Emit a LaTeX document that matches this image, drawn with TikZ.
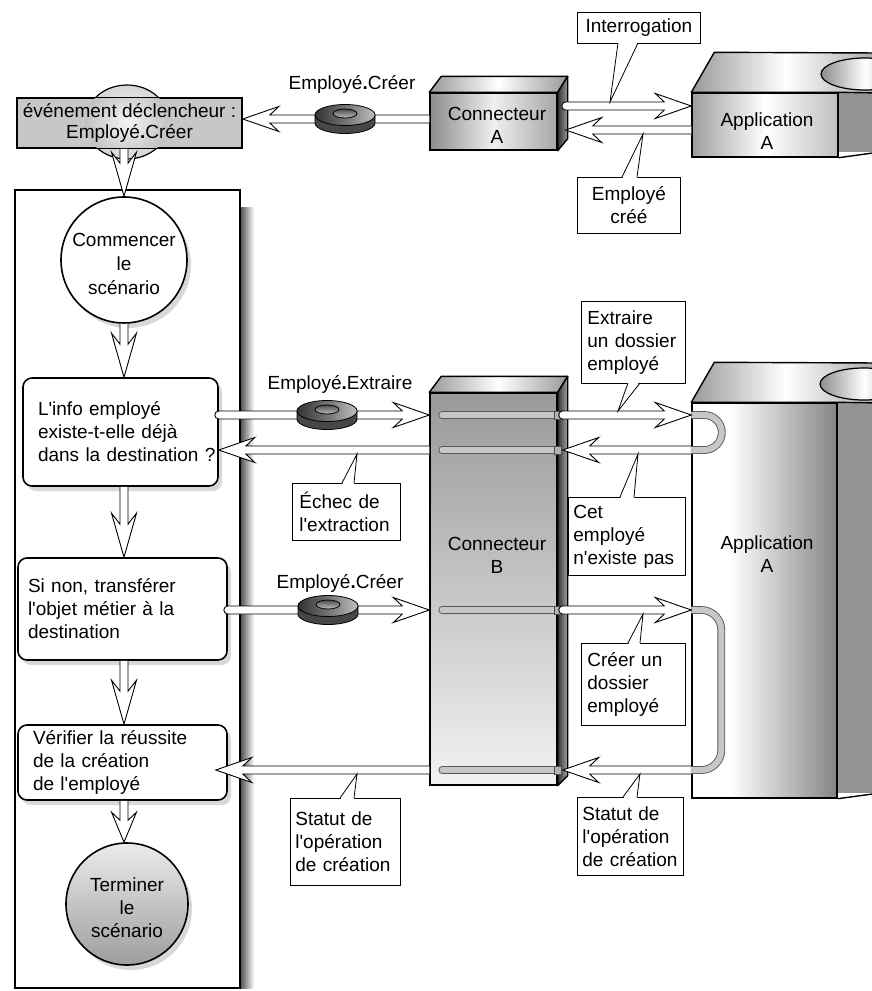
\documentclass[tikz,border=0pt]{standalone}
\usepackage{fontspec}
\setmainfont{Liberation Sans}[Ligatures=TeXOff]
\usetikzlibrary{calc,shadows}
\pgfdeclarehorizontalshading{appfront}{100bp}{color(0bp)=(white); color(25bp)=(white); color(38bp)=(white); color(75bp)=(black!48); color(100bp)=(black!48)}
\tikzset{
 txt/.style={font=\fontsize{19}{23}\selectfont, inner sep=0pt},
 callout/.style={draw, fill=white, line width=0.8pt, anchor=north west, align=left, inner ysep=0pt, font=\fontsize{19}{23}\selectfont},
 proc/.style={draw, line width=1.6pt, rounded corners=9pt, fill=white, align=left, inner ysep=0pt, font=\fontsize{19}{23}\selectfont, drop shadow={shadow xshift=4pt, shadow yshift=-5pt, opacity=0.3}},
 edgethree/.style={line width=1.4pt, line join=round},
 hollowline/.style={line width=0.9pt, line join=miter, miter limit=20},
 tube/.style={draw=black!65, line width=0.9pt, double=black!22, double distance=6pt},
}
\newcommand\hollowarrow[4]{%
 \fill[white] ($(#3)!4pt!90:(#4)$) -- ($(#4)!#2!(#3)!4pt!-90:(#3)$) -- ($(#4)!#1!(#3)!12.5pt!-90:(#3)$) -- (#4) -- ($(#4)!#1!(#3)!12.5pt!90:(#3)$) -- ($(#4)!#2!(#3)!4pt!90:(#3)$) -- ($(#3)!4pt!-90:(#4)$) -- cycle;
 \draw[hollowline] ($(#3)!4pt!90:(#4)$) -- ($(#4)!#2!(#3)!4pt!-90:(#3)$) -- ($(#4)!#1!(#3)!12.5pt!-90:(#3)$) -- (#4) -- ($(#4)!#1!(#3)!12.5pt!90:(#3)$) -- ($(#4)!#2!(#3)!4pt!90:(#3)$) -- ($(#3)!4pt!-90:(#4)$);}
\newcommand\harr[2]{\hollowarrow{36pt}{27pt}{#1}{#2}}
\newcommand\harrR[2]{\filldraw[fill=white, hollowline] (#1) circle[radius=4pt]; \hollowarrow{36pt}{27pt}{#1}{#2}}
\newcommand\varr[2]{\hollowarrow{44pt}{33pt}{#1}{#2}}
\newcommand\ptr[5]{%
 \fill[white] (#1,#4) -- (#5) -- (#2,#4) -- cycle;
 \draw[line width=0.8pt, line join=miter] (#1,#3) -- (#5) -- (#2,#3);}
\newcommand\puck[1]{\begin{scope}[shift={(#1)}]
 \filldraw[fill=black!72, line width=0.8pt] (-30,4) -- (-30,-4) arc[start angle=180, end angle=360, x radius=30, y radius=10.5] -- (30,4) -- cycle;
 \shade[draw, line width=0.8pt, left color=black!80, right color=black!25, middle color=black!55] (0,4) ellipse (30 and 10.5);
 \shade[draw, line width=0.8pt, top color=black!70, bottom color=black!25] (0,5.5) ellipse (12 and 4.5);
\end{scope}}
\begin{document}
\begin{tikzpicture}[x=1pt,y=1pt]
\useasboundingbox (0,0) rectangle (872,-991);
\clip (0,0) rectangle (872,-991);
\fill[white] (0,0) rectangle (872,-991);
% row levels
\coordinate (t106) at (0,-106);
\coordinate (t119) at (0,-119);
\coordinate (t130) at (0,-130);
\coordinate (r415) at (0,-415);
\coordinate (r450) at (0,-450);
\coordinate (r610) at (0,-610);
\coordinate (r770) at (0,-770);
\coordinate (fx) at (124,0);
% frame
\shade[left color=black!65, right color=white] (241,-207) rectangle (254,-988);
\node[draw, line width=1.6pt, minimum width=225pt, minimum height=798pt, inner sep=0pt] (frame) at (127.5,-589) {};
% trigger
\shade[draw, line width=1.2pt, inner color=black!4, outer color=black!16] (127,-122) ellipse (42 and 37);
\node[draw, line width=1.6pt, fill=black!22, minimum width=225pt, minimum height=50pt, inner sep=0pt] (trig) at (129.5,-123) {};
\begin{scope}
\clip ($(trig.south west)+(1,1)$) rectangle ($(trig.north east)+(-1,-1)$);
\shade[inner color=black!4, outer color=black!24] (127,-122) ellipse (42 and 37);
\end{scope}
\node[txt, align=center, font=\fontsize{19}{21}\selectfont] (trigt) at (trig) {événement déclencheur :\\Employé{\bfseries .}Créer};
% flow
\node[circle, draw, line width=1.6pt, fill=white, minimum size=126pt, inner sep=0pt, drop shadow={shadow xshift=4pt, shadow yshift=-5pt, opacity=0.3}] (start) at (124,-260) {};
\node[txt, align=center, font=\fontsize{19}{24}\selectfont] (startt) at (124,-264) {Commencer\\le\\scénario};
\node[proc, minimum width=195pt, minimum height=108pt, text width=165pt, inner xsep=15pt] (b1) at (120.5,-432) {\mbox{L'info employé}\\\mbox{existe-t-elle déjà}\\\mbox{dans la destination ?}};
\node[proc, minimum width=209pt, minimum height=102pt, text width=189pt, inner xsep=10pt] (b2) at (122.5,-609) {\mbox{Si non, transférer}\\\mbox{l'objet métier à la}\\destination};
\node[proc, minimum width=209pt, minimum height=75pt, text width=179pt, inner xsep=15pt] (b3) at (122.5,-762.5) {\mbox{Vérifier la réussite}\\\mbox{de la création}\\\mbox{de l'employé}};
\node[circle, draw, line width=1.6pt, minimum size=122pt, inner sep=0pt, top color=black!8, bottom color=black!38, drop shadow={shadow xshift=4pt, shadow yshift=-5pt, opacity=0.3}] (end) at (127,-904) {};
\node[txt, align=center] (endt) at (127,-908) {Terminer\\le\\scénario};
\coordinate (b3in) at ($(b3.east)+(-12,0)$);
\varr{trig.south -| fx}{start.north}
\varr{start.south}{b1.north -| fx}
\varr{b1.south -| fx}{b2.north -| fx}
\varr{b2.south -| fx}{b3.north -| fx}
\hollowarrow{30pt}{22pt}{b3.south -| fx}{end.north -| fx}
% Connecteur A
\node[draw, line width=1.4pt, minimum width=127pt, minimum height=57pt, inner sep=0pt, left color=black!45, right color=black!35, middle color=black!6] (ca) at (493.5,-121.5) {};
\shade[draw, edgethree, left color=black!40, right color=black!40, middle color=white] (ca.north west) -- ++(12,16) -- ($(ca.north east)+(10,16)$) -- (ca.north east) -- cycle;
\shade[draw, edgethree, left color=black!80, right color=black!40] (ca.north east) -- ++(10,16) -- ($(ca.south east)+(10,12)$) -- (ca.south east) -- cycle;
\node[txt, align=center] (cat) at (497,-125) {Connecteur\\A};
\coordinate (caR) at ($(ca.east)+(8,0)$);
% Application A (top)
\node[draw, line width=1.4pt, minimum width=146pt, minimum height=64pt, inner sep=0pt, left color=black!38, right color=black!25, middle color=white] (aa) at (765,-125) {};
\fill[black!42] (aa.north east) rectangle (880,-152);
\draw[edgethree] (aa.south east) -- (880,-152);
\shade[draw, edgethree, left color=black!40, right color=black!35, middle color=white] (aa.north west) -- ++(23,40) -- (880,-53) -- (880,-93) -- (aa.north east) -- cycle;
\shade[draw, line width=1.2pt, left color=black!45, right color=black!40, middle color=white] (865,-74) ellipse (44 and 16);
\node[txt, align=center] (aat) at (767,-131) {Application\\A};
% Connecteur B
\node[draw, line width=1.4pt, minimum width=127pt, minimum height=392pt, inner sep=0pt, top color=black!40, bottom color=black!5] (cb) at (493.5,-589) {};
\shade[draw, edgethree, left color=black!40, right color=black!40, middle color=white] (cb.north west) -- ++(12,16) -- ($(cb.north east)+(10,16)$) -- (cb.north east) -- cycle;
\shade[draw, edgethree, left color=black!80, right color=black!35] (cb.north east) -- ++(10,16) -- ($(cb.south east)+(10,10)$) -- (cb.south east) -- cycle;
\node[txt, align=center] (cbt) at (497,-555) {Connecteur\\B};
\coordinate (cbR) at ($(cb.east)+(5,0)$);
% Application A (bottom)
\node[draw, line width=1.4pt, minimum width=145pt, minimum height=395pt, inner sep=0pt, shading=appfront] (ab) at (764.5,-600.5) {};
\fill[black!42] (ab.north east) rectangle (880,-793);
\draw[edgethree] (ab.south east) -- (880,-793);
\shade[draw, edgethree, left color=black!40, right color=black!35, middle color=white] (ab.north west) -- ++(23,40) -- (880,-363) -- (880,-403) -- (ab.north east) -- cycle;
\shade[draw, line width=1.2pt, left color=black!45, right color=black!40, middle color=white] (864,-384) ellipse (44 and 16);
\node[txt, align=center] (abt) at (767,-554) {Application\\A};
% tubes inside Connecteur B
\foreach \r in {r415,r450,r610,r770}{
 \draw[tube, line cap=round] ($(cb.west |- \r)+(13,0)$) -- ($(cb.east |- \r)+(-4,0)$);
 \filldraw[fill=black!30, line width=0.5pt, draw=black!70] ($(cb.east |- \r)+(-3,-4)$) rectangle ($(cb.east |- \r)+(4,4)$);
}
% U tubes in Application A
\draw[tube] (ab.west |- r415) -- ++(13,0) arc[start angle=90, end angle=-90, radius=17.5] -- (ab.west |- r450);
\draw[tube] (ab.west |- r610) -- ++(10,0) arc[start angle=90, end angle=0, radius=20] -- ($(ab.west |- r770)+(30,20)$) arc[start angle=0, end angle=-90, radius=20] -- (ab.west |- r770);
% message arrows
\harr{ca.west |- t119}{trig.east |- t119}
\harrR{caR |- t106}{aa.west |- t106}
\harr{aa.west |- t130}{caR |- t130}
\harrR{b1.east |- r415}{cb.west |- r415}
\harr{cb.west |- r450}{b1.east |- r450}
\harrR{cbR |- r415}{ab.west |- r415}
\harr{ab.west |- r450}{cbR |- r450}
\harrR{b2.east |- r610}{cb.west |- r610}
\harrR{cbR |- r610}{ab.west |- r610}
\harr{ab.west |- r770}{cbR |- r770}
\harr{cb.west |- r770}{b3in |- r770}
% pucks and labels
\coordinate (pk1) at (345,-119);
\coordinate (pk2) at (327,-415);
\coordinate (pk3) at (328,-610);
\puck{pk1}
\puck{pk2}
\puck{pk3}
\node[txt] (lb1) at (352,-84) {Employé{\bfseries .}Créer};
\node[txt] (lb2) at (340,-384) {Employé{\bfseries .}Extraire};
\node[txt] (lb3) at (340,-583) {Employé{\bfseries .}Créer};
% callouts
\node[callout, minimum width=123pt, minimum height=31pt, text width=111pt, inner xsep=6pt, align=center] (cint) at (577,-12) {Interrogation};
\ptr{618}{638}{-43}{-41}{610,-102}
\node[callout, minimum width=103pt, minimum height=56pt, text width=91pt, inner xsep=6pt, align=center] (ccree) at (577,-177) {Employé\\créé};
\ptr{622}{637}{-177}{-179}{643,-134}
\node[callout, minimum width=104pt, minimum height=82pt, text width=92pt, inner xsep=6pt] (cext) at (581,-301) {Extraire\\\mbox{un dossier}\\employé};
\ptr{628}{640}{-383}{-381}{618,-411}
\node[callout, minimum width=117pt, minimum height=78pt, text width=107pt, inner xsep=5pt] (ccet) at (568,-497) {Cet\\employé\\\mbox{n'existe pas}};
\ptr{620}{634}{-497}{-499}{638,-454}
\node[callout, minimum width=104pt, minimum height=82pt, text width=92pt, inner xsep=6pt] (ccre) at (581,-643) {\mbox{Créer un}\\dossier\\employé};
\ptr{628}{640}{-643}{-645}{643,-614}
\node[callout, minimum width=106pt, minimum height=78pt, text width=96pt, inner xsep=5pt] (cstr) at (577,-797) {\mbox{Statut de}\\\mbox{l'opération}\\\mbox{de création}};
\ptr{623}{637}{-797}{-799}{640,-774}
\node[callout, minimum width=108pt, minimum height=57pt, text width=94pt, inner xsep=7pt] (cech) at (292,-483) {\mbox{Échec de}\\\mbox{l'extraction}};
\ptr{342}{354}{-483}{-485}{357,-454}
\node[callout, minimum width=110pt, minimum height=87pt, text width=100pt, inner xsep=5pt] (cstl) at (290,-798) {\mbox{Statut de}\\\mbox{l'opération}\\\mbox{de création}};
\ptr{340}{354}{-798}{-800}{357,-774}
\end{tikzpicture}
\end{document}
